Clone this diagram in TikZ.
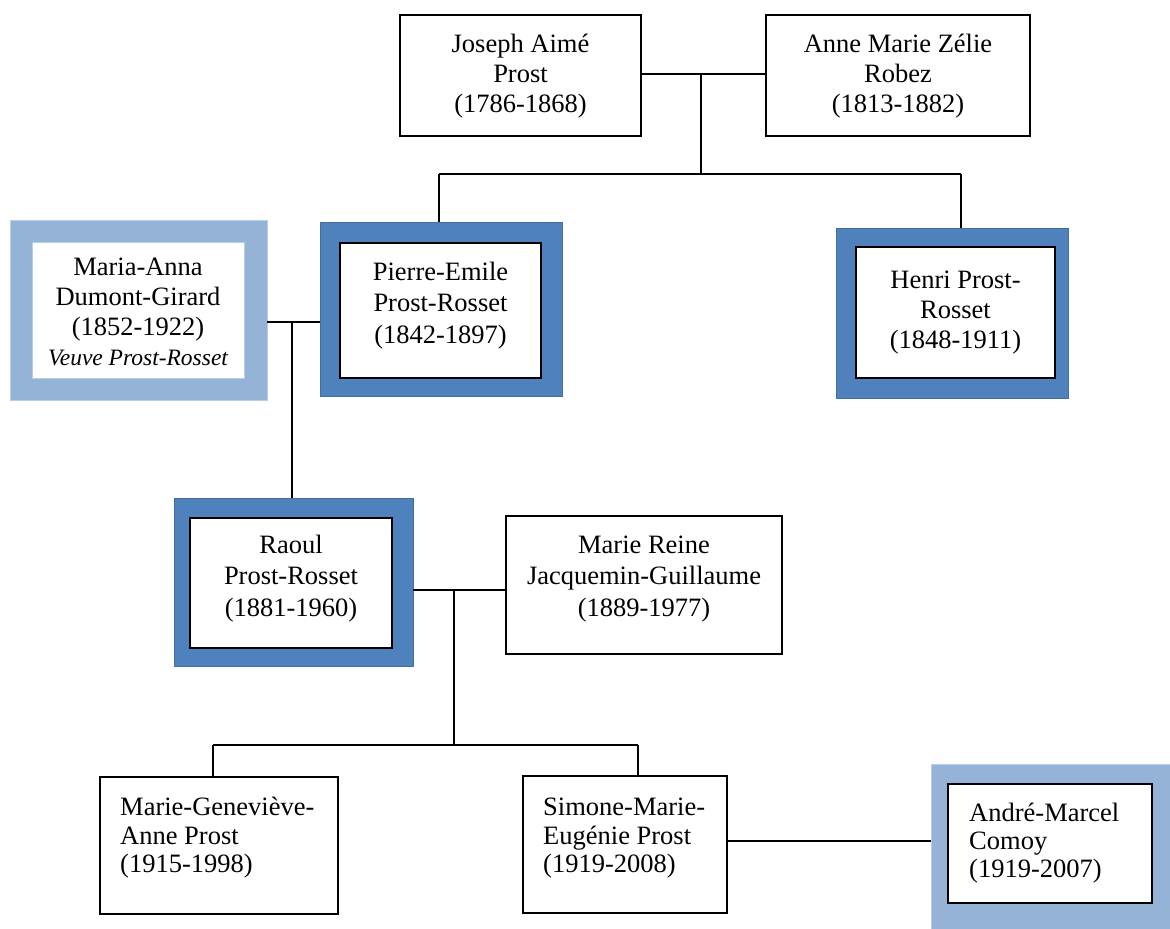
\documentclass[tikz,border=0pt]{standalone}
\usepackage{fontspec}
\setmainfont{Liberation Serif}
\definecolor{dblue}{HTML}{4F81BD}
\definecolor{dblueline}{HTML}{41709F}
\definecolor{lblue}{HTML}{95B3D7}
\definecolor{lblueline}{HTML}{B9CDE5}
\tikzset{
  personbox/.style={draw=black, line width=1.4pt, fill=white, inner sep=0pt},
  darkframe/.style={draw=dblueline, line width=0.8pt, fill=dblue, inner sep=0pt},
  lightframe/.style={draw=lblueline, line width=0.8pt, fill=lblue, inner sep=0pt},
  lightinner/.style={draw=lblueline, line width=1pt, fill=white, inner sep=0pt},
  boxsize/.style 2 args={minimum width=#1, minimum height=#2},
  ptext/.style={inner sep=0pt, align=center, font=\fontsize{26.5}{30}\selectfont},
  ptextwide/.style={inner sep=0pt, align=center, font=\fontsize{26.5}{31.5}\selectfont},
  ptextleft/.style={inner sep=0pt, align=left, anchor=west, font=\fontsize{26.5}{28.5}\selectfont},
  famlink/.style={line width=1.4pt, draw=black},
}
\begin{document}
\begin{tikzpicture}[x=1pt, y=-1pt]
\useasboundingbox (0,0) rectangle (1170,929);
% generation 1
\node[personbox, boxsize={241}{121}] (J) at (520.5,75.5) {};
\node[ptext] (Jt) at (520.5,76) {\strut Joseph Aimé\\\strut Prost\\\strut (1786-1868)};
\node[personbox, boxsize={264}{121}] (A) at (898,75.5) {};
\node[ptext] (At) at (898,76) {\strut Anne Marie Zélie\\\strut Robez\\\strut (1813-1882)};
% generation 2
\node[lightframe, boxsize={257}{180}] (Mo) at (138.5,310) {};
\node[lightinner, boxsize={212}{136}] (Mi) at (138,310) {};
\node[ptext] (Mt) at (138,314) {\strut Maria-Anna\\\strut Dumont-Girard\\\strut (1852-1922)\\{\fontsize{23.5}{30}\selectfont\itshape\strut Veuve Prost-Rosset}};
\node[darkframe, boxsize={242}{174}] (Po) at (441,309) {};
\node[personbox, boxsize={201}{135}] (Pi) at (440.5,310.5) {};
\node[ptextwide] (Pt) at (440.5,305.5) {\strut Pierre-Emile\\\strut Prost-Rosset\\\strut (1842-1897)};
\node[darkframe, boxsize={232}{170}] (Ho) at (952,313) {};
\node[personbox, boxsize={199}{131}] (Hi) at (955.5,312.5) {};
\node[ptext] (Ht) at (955.5,312) {\strut Henri Prost-\\\strut Rosset\\\strut (1848-1911)};
% generation 3
\node[darkframe, boxsize={239}{168}] (Ro) at (293.5,582) {};
\node[personbox, boxsize={202}{130}] (Ri) at (291,583) {};
\node[ptextwide] (Rt) at (291,578.5) {\strut Raoul\\\strut Prost-Rosset\\\strut (1881-1960)};
\node[personbox, boxsize={276}{138}] (MR) at (644,585) {};
\node[ptextwide] (MRt) at (644,578.5) {\strut Marie Reine\\\strut Jacquemin-Guillaume\\\strut (1889-1977)};
% generation 4
\node[personbox, boxsize={238}{137}] (MG) at (219,845.5) {};
\node[ptextleft] (MGt) at (120,838.5) {\strut Marie-Geneviève-\\\strut Anne Prost\\\strut (1915-1998)};
\node[personbox, boxsize={204}{137}] (SM) at (625,844.5) {};
\node[ptextleft] (SMt) at (543,838.5) {\strut Simone-Marie-\\\strut Eugénie Prost\\\strut (1919-2008)};
\node[lightframe, boxsize={244}{170}] (Ao) at (1053,849) {};
\node[personbox, boxsize={204}{119}] (Ai) at (1050,843.5) {};
\node[ptextleft, font=\fontsize{26.5}{28}\selectfont] (At2) at (969,844) {\strut André-Marcel\\\strut Comoy\\\strut (1919-2007)};
% connectors
\coordinate (jm) at (701,74);
\coordinate (jb) at (701,174);
\coordinate (pj) at (439,174);
\coordinate (hj) at (961,174);
\draw[famlink] (J.east |- jm) -- (A.west |- jm);
\draw[famlink] (jm) -- (jb);
\draw[famlink] (pj) -- (hj);
\draw[famlink] (pj) -- (pj |- Po.north);
\draw[famlink] (hj) -- (hj |- Ho.north);
\coordinate (mp) at (292,322);
\draw[famlink] (Mo.east |- mp) -- (Po.west |- mp);
\draw[famlink] (mp) -- (mp |- Ro.north);
\coordinate (rm) at (454,590);
\coordinate (cb) at (454,745);
\draw[famlink] (Ro.east |- rm) -- (MR.west |- rm);
\draw[famlink] (rm) -- (cb);
\coordinate (gj) at (213,745);
\coordinate (sj) at (638,745);
\draw[famlink] (gj) -- (sj);
\draw[famlink] (gj) -- (gj |- MG.north);
\draw[famlink] (sj) -- (sj |- SM.north);
\coordinate (sa) at (0,841);
\draw[famlink] (SM.east |- sa) -- (Ao.west |- sa);
\end{tikzpicture}
\end{document}
